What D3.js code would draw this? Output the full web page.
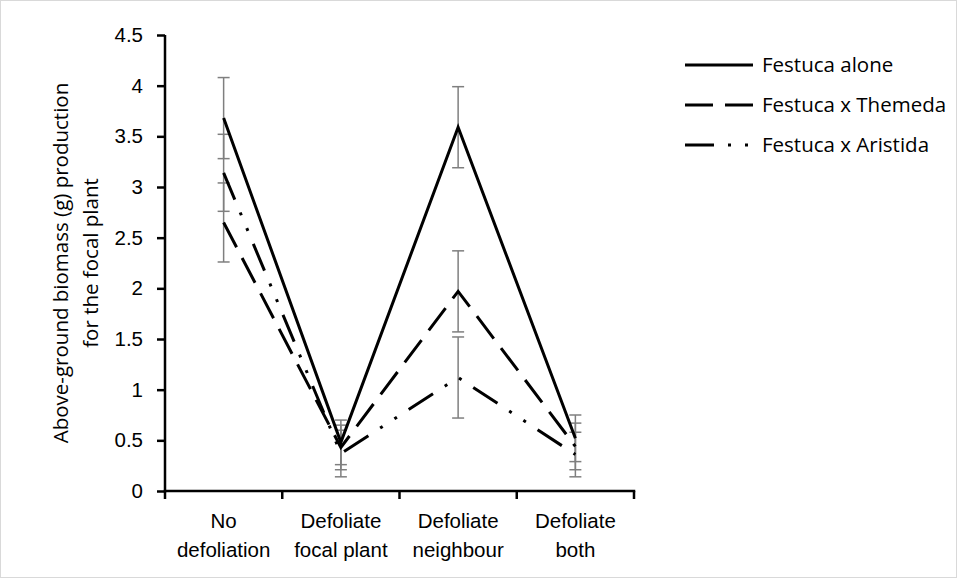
<!DOCTYPE html>
<html>
<head>
<meta charset="utf-8">
<script src="https://cdn.jsdelivr.net/npm/d3@7"></script>
<style>
  body { margin: 0; background: #fff; }
  svg { display: block; font-family: "Open Sans", "Liberation Sans", sans-serif; }
</style>
</head>
<body>
<svg width="957" height="578"></svg>
<script>
// data
const categories = ["No defoliation", "Defoliate focal plant", "Defoliate neighbour", "Defoliate both"];
const categoryLines = [["No", "defoliation"], ["Defoliate", "focal plant"], ["Defoliate", "neighbour"], ["Defoliate", "both"]];
const seriesNames = ["Festuca alone", "Festuca x Themeda", "Festuca x Aristida"];
const aloneMeans = [3.68, 0.48, 3.59, 0.52];
const aloneErrors = [0.40, 0.22, 0.40, 0.23];
const themedaMeans = [2.65, 0.43, 1.97, 0.44];
const themedaErrors = [0.39, 0.22, 0.40, 0.23];
const aristidaMeans = [3.14, 0.37, 1.12, 0.36];
const aristidaErrors = [0.38, 0.23, 0.40, 0.22];
const yTicks = [0, 0.5, 1, 1.5, 2, 2.5, 3, 3.5, 4, 4.5];

const svg = d3.select("svg");
const width = +svg.attr("width");
const height = +svg.attr("height");
const margin = { top: 35, right: 323, bottom: 87, left: 165 };
const innerWidth = width - margin.left - margin.right;
const innerHeight = height - margin.top - margin.bottom;
const fontSize = "20.5px";

const series = [
  { name: seriesNames[0], means: aloneMeans, errors: aloneErrors, dash: null },
  { name: seriesNames[1], means: themedaMeans, errors: themedaErrors, dash: "28,12" },
  { name: seriesNames[2], means: aristidaMeans, errors: aristidaErrors, dash: "29,14,3,14,3,14" }
];

// outer frame
svg.append("rect")
  .attr("x", 0.5).attr("y", 0.5)
  .attr("width", width - 1).attr("height", height - 1)
  .attr("fill", "none")
  .attr("stroke", "#d9d9d9");

const x = d3.scaleBand()
  .domain(categories)
  .range([0, innerWidth]);

const y = d3.scaleLinear()
  .domain([0, 4.5])
  .range([innerHeight, 0]);

const cx = c => x(c) + x.bandwidth() / 2;

const g = svg.append("g")
  .attr("transform", `translate(${margin.left},${margin.top})`);

// y axis
const yAxis = g.append("g")
  .call(d3.axisLeft(y).tickValues(yTicks).tickSize(8).tickPadding(14).tickFormat(d3.format("")));
yAxis.select(".domain").attr("stroke-width", 2.5).attr("d", `M0,${innerHeight + 1.25}V0`);
yAxis.selectAll(".tick line").attr("stroke-width", 2.5);
yAxis.selectAll(".tick text")
  .style("font-size", fontSize)
  .attr("fill", "#000");

// x axis: labels at band centres, tick marks at band edges
const xAxis = g.append("g")
  .attr("transform", `translate(0,${innerHeight})`)
  .call(d3.axisBottom(x).tickSize(0).tickPadding(0));
xAxis.select(".domain").attr("stroke-width", 2.5).attr("d", `M-1.25,0H${innerWidth + 1.25}`);
xAxis.selectAll(".tick text").remove();
xAxis.selectAll(".tick").each(function (d, i) {
  const t = d3.select(this).append("text")
    .attr("fill", "#000")
    .attr("text-anchor", "middle")
    .style("font-size", fontSize);
  categoryLines[i].forEach((line, k) => {
    t.append("tspan").attr("x", 0).attr("y", 37 + k * 29).text(line);
  });
});
const edges = categories.map(c => x(c)).concat([x(categories[categories.length - 1]) + x.bandwidth()]);
xAxis.selectAll(".edge")
  .data(edges)
  .enter()
  .append("line")
  .attr("class", "edge")
  .attr("x1", d => d).attr("x2", d => d)
  .attr("y1", 0).attr("y2", 8)
  .attr("stroke", "#000")
  .attr("stroke-width", 2.5);

// error bars
series.forEach(s => {
  const eb = g.append("g").attr("stroke", "#7f7f7f").attr("stroke-width", 1.5);
  categories.forEach((c, i) => {
    const hi = y(s.means[i] + s.errors[i]);
    const lo = y(s.means[i] - s.errors[i]);
    eb.append("line").attr("x1", cx(c)).attr("x2", cx(c)).attr("y1", hi).attr("y2", lo);
    eb.append("line").attr("x1", cx(c) - 6).attr("x2", cx(c) + 6).attr("y1", hi).attr("y2", hi);
    eb.append("line").attr("x1", cx(c) - 6).attr("x2", cx(c) + 6).attr("y1", lo).attr("y2", lo);
  });
});

// lines
const line = d3.line()
  .x((d, i) => cx(categories[i]))
  .y(d => y(d));

series.forEach(s => {
  g.append("path")
    .datum(s.means)
    .attr("d", line)
    .attr("fill", "none")
    .attr("stroke", "#000")
    .attr("stroke-width", 3)
    .attr("stroke-dasharray", s.dash);
});

// y label
const ylab = svg.append("text")
  .attr("transform", `translate(0,${margin.top + innerHeight / 2}) rotate(-90)`)
  .attr("text-anchor", "middle")
  .style("font-size", fontSize);
["Above-ground biomass (g) production", "for the focal plant"].forEach((t, k) => {
  ylab.append("tspan")
    .attr("x", 0)
    .attr("y", 68 + k * 30)
    .text(t);
});

// legend
const legend = svg.append("g")
  .attr("transform", `translate(685, 65)`);

series.forEach((s, i) => {
  const yOffset = i * 40;
  legend.append("line")
    .attr("x1", 0).attr("x2", 68)
    .attr("y1", yOffset).attr("y2", yOffset)
    .attr("stroke", "#000")
    .attr("stroke-width", 3)
    .attr("stroke-dasharray", s.dash);
  legend.append("text")
    .attr("x", 77)
    .attr("y", yOffset)
    .attr("dy", "0.35em")
    .style("font-size", fontSize)
    .text(s.name);
});
</script>
</body>
</html>
